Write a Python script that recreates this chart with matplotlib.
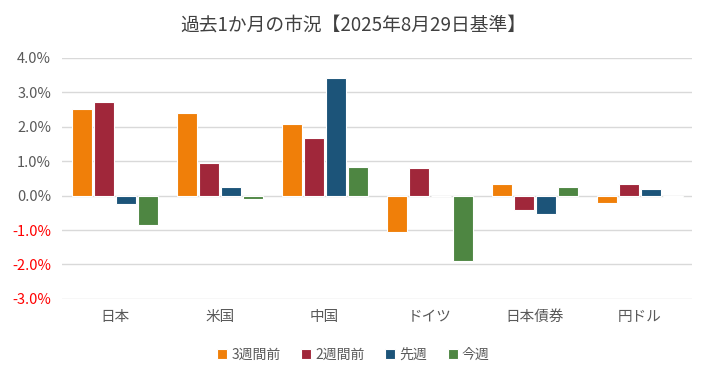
import numpy as np
from matplotlib import pyplot as plt
from matplotlib.ticker import FuncFormatter

plt.rcParams['font.family'] = ['Noto Sans CJK JP', 'DejaVu Sans']

categories = ["日本", "米国", "中国", "ドイツ", "日本債券", "円ドル"]
series_names = ["3週間前", "2週間前", "先週", "今週"]
week3 = [2.53, 2.40, 2.09, -1.07, 0.35, -0.20]
week2 = [2.71, 0.94, 1.68, 0.81, -0.41, 0.35]
last_week = [-0.23, 0.26, 3.42, 0.0, -0.53, 0.18]
this_week = [-0.84, -0.09, 0.83, -1.91, 0.26, -0.05]
colors = ["#F07F09", "#A0273A", "#1C5479", "#4E8642"]

fig = plt.figure(figsize=(7.07, 3.76), dpi=100)
ax = fig.add_axes([0.088, 0.205, 0.891, 0.641])

x = np.arange(len(categories))
w = 0.19
gap = 0.02
all_series = [week3, week2, last_week, this_week]
for i, (vals, name, c) in enumerate(zip(all_series, series_names, colors)):
    ax.bar(x + (i - 1.5) * (w + gap), vals, w, color=c, label=name,
           edgecolor="white", linewidth=0.8, zorder=3)

ax.set_ylim(-3.0, 4.0)
ax.set_xlim(-0.5, len(categories) - 0.5)
ax.set_yticks(np.arange(-3, 5, 1))
ax.yaxis.set_major_formatter(FuncFormatter(lambda v, p: "{:.1f}%".format(v)))
ax.grid(axis="y", color="#D9D9D9", linewidth=1, zorder=0)
ax.set_xticks(x)
ax.set_xticklabels(categories)
ax.tick_params(axis="both", length=0, labelsize=10.5, colors="#595959", pad=8)
for lbl, v in zip(ax.get_yticklabels(), np.arange(-3, 5, 1)):
    if v < 0:
        lbl.set_color("#FF0000")
for s in ax.spines.values():
    s.set_visible(False)

fig.suptitle("過去1か月の市況【2025年8月29日基準】", y=0.96, fontsize=13.5, color="#404040")
fig.legend(loc="lower center", ncol=4, frameon=False, fontsize=10,
           bbox_to_anchor=(0.5, 0.005), handlelength=0.7, handleheight=0.7,
           handletextpad=0.3, columnspacing=1.5, labelcolor="#595959")

fig.savefig("out.png", dpi=100)
